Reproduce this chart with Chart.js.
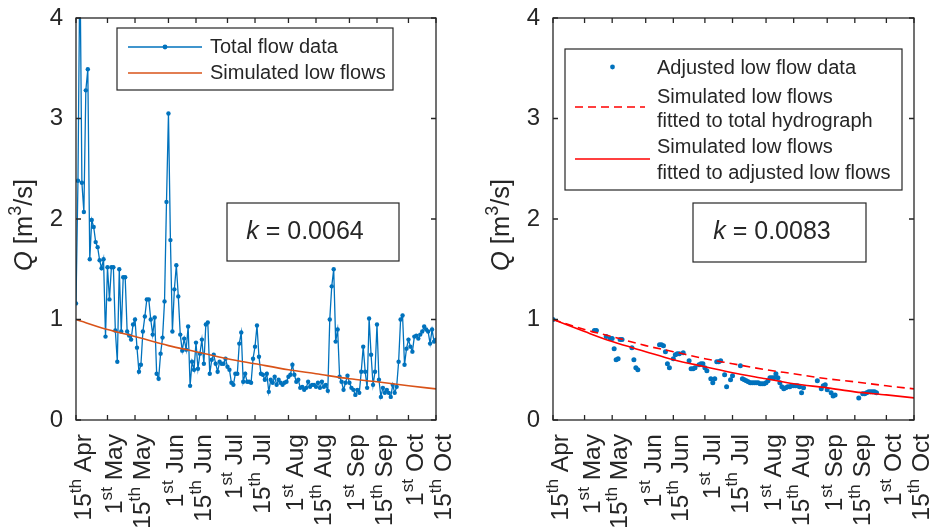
<!DOCTYPE html>
<html>
<head>
<meta charset="utf-8">
<script src="https://cdn.jsdelivr.net/npm/chart.js@4.4.1/dist/chart.umd.min.js"></script>
<style>
  html, body { margin: 0; padding: 0; background: #fff; }
  #wrap { position: relative; width: 935px; height: 532px; overflow: hidden; }
  #leftChart { position: absolute; left: 0; top: 0; }
  #rightChart { position: absolute; left: 470px; top: 0; }
</style>
</head>
<body>
<div id="wrap">
  <canvas id="leftChart" width="470" height="532"></canvas>
  <canvas id="rightChart" width="465" height="532"></canvas>
</div>
<script>
// days are counted from 15th April
const tickDays = [0, 16, 30, 47, 61, 77, 91, 108, 122, 139, 153, 169, 183];
const tickLabels = ['15th Apr', '1st May', '15th May', '1st Jun', '15th Jun', '1st Jul', '15th Jul',
  '1st Aug', '15th Aug', '1st Sep', '15th Sep', '1st Oct', '15th Oct'];
const yTicks = [0, 1, 2, 3, 4];

// total flow, one value per day (index = day)
const totalFlow = [
  1.16, 2.38, 4.60, 2.36, 2.07, 3.28, 3.49, 1.60, 1.99, 1.92,
  1.77, 1.72, 1.59, 1.51, 1.60, 0.83, 1.52, 1.20, 1.52, 1.52,
  0.89, 0.58, 1.50, 0.88, 1.42, 1.42, 0.88, 0.84, 0.80, 0.95,
  1.00, 0.72, 0.48, 0.55, 0.88, 1.03, 1.20, 1.20, 1.00, 0.85,
  1.02, 0.46, 0.41, 0.66, 0.82, 1.18, 2.17, 3.05, 1.79, 0.88,
  1.30, 1.54, 1.23, 0.85, 0.69, 0.81, 0.70, 0.93, 0.34, 0.58,
  0.50, 0.77, 0.51, 0.66, 0.80, 0.56, 0.95, 0.97, 0.46, 0.60,
  0.65, 0.56, 0.48, 0.58, 0.56, 0.56, 0.61, 0.53, 0.50, 0.37,
  0.35, 0.46, 0.46, 0.76, 0.87, 0.38, 0.46, 0.38, 0.38, 0.37,
  0.61, 0.73, 0.94, 0.63, 0.46, 0.45, 0.40, 0.46, 0.28, 0.40,
  0.37, 0.43, 0.35, 0.40, 0.37, 0.35, 0.37, 0.38, 0.43, 0.45,
  0.55, 0.45, 0.38, 0.40, 0.32, 0.33, 0.30, 0.32, 0.38, 0.33,
  0.35, 0.35, 0.33, 0.37, 0.32, 0.38, 0.33, 0.35, 0.29, 1.00,
  1.33, 1.50, 0.78, 0.90, 0.43, 0.38, 0.30, 0.37, 0.44, 0.37,
  0.32, 0.30, 0.25, 0.30, 0.27, 0.48, 0.73, 0.48, 0.32, 1.01,
  0.65, 0.35, 0.48, 0.95, 0.40, 0.23, 0.32, 0.27, 0.30, 0.27,
  0.23, 0.35, 0.27, 0.33, 0.58, 1.00, 1.04, 0.55, 0.71, 0.80,
  0.73, 0.68, 0.83, 0.84, 0.81, 0.85, 0.88, 0.93, 0.90, 0.88,
  0.76, 0.90, 0.78, 0.80
];

// simulated low flows, read at the tick dates
const simTotalFit = [1.00, 0.90, 0.83, 0.74, 0.68, 0.61, 0.56, 0.50, 0.46, 0.41, 0.38, 0.34, 0.31];
const simAdjFit = [1.00, 0.88, 0.78, 0.68, 0.60, 0.53, 0.47, 0.41, 0.36, 0.32, 0.28, 0.25, 0.22];

// adjusted low flow data
const adjDays = [0, 21, 22, 27, 29, 30, 31, 32, 33, 34, 35, 40, 41, 42, 43, 54, 55, 56, 57, 58,
  59, 61, 62, 63, 64, 66, 69, 70, 71, 72, 74, 75, 76, 77, 78, 80, 81, 82, 83, 84,
  85, 87, 88, 90, 91, 95, 96, 97, 98, 99, 100, 101, 102, 103, 104, 105, 106, 107, 108, 109,
  110, 111, 112, 113, 114, 115, 116, 117, 118, 119, 120, 121, 122, 123, 124, 125, 126, 127,
  134, 136, 137, 138, 139, 141, 142, 143, 155, 157, 158, 159, 160, 161, 162, 163, 164];
const adjFlow = [1.00, 0.89, 0.89, 0.83, 0.81, 0.81, 0.71, 0.60, 0.61, 0.80, 0.80, 0.72, 0.60, 0.52, 0.50, 0.75, 0.75, 0.74, 0.68, 0.56,
  0.52, 0.61, 0.65, 0.66, 0.66, 0.67, 0.59, 0.51, 0.51, 0.52, 0.55, 0.56, 0.56, 0.52, 0.49, 0.41, 0.37, 0.41, 0.58, 0.58,
  0.59, 0.45, 0.33, 0.40, 0.44, 0.54, 0.41, 0.40, 0.39, 0.38, 0.37, 0.37, 0.37, 0.37, 0.37, 0.36, 0.36, 0.36, 0.37, 0.39,
  0.42, 0.42, 0.42, 0.46, 0.42, 0.37, 0.33, 0.31, 0.32, 0.33, 0.33, 0.34, 0.34, 0.34, 0.34, 0.33, 0.27, 0.32,
  0.39, 0.31, 0.34, 0.35, 0.30, 0.27, 0.24, 0.25, 0.22, 0.26, 0.26, 0.27, 0.28, 0.28, 0.28, 0.28, 0.27];

const FONT = "'Liberation Sans', Arial, Helvetica, sans-serif";
const INK = '#262626';
const BLUE = '#0072BD';
const ORANGE = '#D95319';
const RED = '#FF0000';

function fontFor(p, size) {
  return (p.italic ? 'italic ' : '') + (p.sup ? size * 0.7 : size) + 'px ' + FONT;
}

// draws text pieces (normal / italic / superscript) on one baseline
function drawParts(ctx, parts, size, x, y, align) {
  let w = 0;
  parts.forEach(p => { ctx.font = fontFor(p, size); w += ctx.measureText(p.text).width; });
  let cx = align === 'center' ? x - w / 2 : align === 'right' ? x - w : x;
  ctx.textAlign = 'left';
  parts.forEach(p => {
    ctx.font = fontFor(p, size);
    ctx.fillText(p.text, cx, p.sup ? y - size * 0.42 : y);
    cx += ctx.measureText(p.text).width;
  });
}

function tickParts(label) {
  const m = label.match(/^(\d+)(st|nd|rd|th) (.+)$/);
  return [{ text: m[1] }, { text: m[2], sup: true }, { text: ' ' + m[3] }];
}

// MATLAB-like axes box, inward ticks, date labels, y title, legend and k box
const framePlugin = {
  id: 'frame',
  afterDatasetsDraw(chart, args, opts) {
    const { ctx, chartArea: a, scales: { x, y } } = chart;
    ctx.save();
    ctx.fillStyle = INK;
    ctx.strokeStyle = INK;
    ctx.lineWidth = 1.3;
    ctx.strokeRect(a.left, a.top, a.width, a.height);

    ctx.beginPath();
    tickDays.forEach(d => {
      const px = x.getPixelForValue(d);
      ctx.moveTo(px, a.bottom); ctx.lineTo(px, a.bottom - 5);
      ctx.moveTo(px, a.top); ctx.lineTo(px, a.top + 5);
    });
    yTicks.forEach(v => {
      const py = y.getPixelForValue(v);
      ctx.moveTo(a.left, py); ctx.lineTo(a.left + 5, py);
      ctx.moveTo(a.right, py); ctx.lineTo(a.right - 5, py);
    });
    ctx.stroke();

    // rotated date labels
    ctx.textBaseline = 'alphabetic';
    tickDays.forEach((d, i) => {
      ctx.save();
      ctx.translate(x.getPixelForValue(d), a.bottom + 14);
      ctx.rotate(-Math.PI / 2);
      drawParts(ctx, tickParts(tickLabels[i]), 24.5, 0, 15, 'right');
      ctx.restore();
    });

    // y axis title
    ctx.save();
    ctx.translate(a.left - 44, (a.top + a.bottom) / 2 + 6);
    ctx.rotate(-Math.PI / 2);
    drawParts(ctx, [{ text: 'Q', italic: true }, { text: ' [m' }, { text: '3', sup: true }, { text: '/s]' }], 25.5, 0, 0, 'center');
    ctx.restore();

    // legend
    const lg = opts.legend;
    ctx.fillStyle = '#fff';
    ctx.fillRect(a.left + lg.box[0], a.top + lg.box[1], lg.box[2], lg.box[3]);
    ctx.lineWidth = 1.2;
    ctx.strokeRect(a.left + lg.box[0], a.top + lg.box[1], lg.box[2], lg.box[3]);
    lg.items.forEach(it => {
      const sy = a.top + it.y;
      const x0 = a.left + it.x0, x1 = a.left + it.x1;
      ctx.strokeStyle = it.color;
      ctx.fillStyle = it.color;
      ctx.lineWidth = 1.6;
      if (it.kind !== 'marker') {
        ctx.setLineDash(it.kind === 'dash' ? [8, 5] : []);
        ctx.beginPath(); ctx.moveTo(x0, sy); ctx.lineTo(x1, sy); ctx.stroke();
        ctx.setLineDash([]);
      }
      if (it.kind === 'marker' || it.kind === 'lineMarker') {
        ctx.beginPath(); ctx.arc((x0 + x1) / 2, sy, 2.4, 0, Math.PI * 2); ctx.fill();
      }
    });
    ctx.fillStyle = INK;
    ctx.textBaseline = 'middle';
    ctx.textAlign = 'left';
    ctx.font = '20px ' + FONT;
    lg.texts.forEach(t => ctx.fillText(t[0], a.left + lg.textX, a.top + t[1]));

    // k annotation
    const kb = opts.kBox;
    ctx.strokeStyle = INK;
    ctx.lineWidth = 1.2;
    ctx.fillStyle = '#fff';
    ctx.fillRect(a.left + kb.box[0], a.top + kb.box[1], kb.box[2], kb.box[3]);
    ctx.strokeRect(a.left + kb.box[0], a.top + kb.box[1], kb.box[2], kb.box[3]);
    ctx.fillStyle = INK;
    drawParts(ctx, [{ text: 'k', italic: true }, { text: ' = ' + kb.value }], 25,
      a.left + kb.cx, a.top + kb.cy, 'center');
    ctx.restore();
  }
};

function scalesFor(yWidth) {
  return {
    x: {
      type: 'linear', min: 0, max: 183,
      afterFit: s => { s.height = 112; },
      ticks: { display: false },
      grid: { display: false, drawTicks: false },
      border: { display: false }
    },
    y: {
      min: 0, max: 4,
      afterFit: s => { s.width = yWidth; s.paddingTop = 0; s.paddingBottom = 0; },
      afterBuildTicks: s => { s.ticks = yTicks.map(v => ({ value: v })); },
      ticks: { font: { family: FONT, size: 24 }, color: INK, padding: 13 },
      grid: { display: false, drawTicks: false },
      border: { display: false }
    }
  };
}

new Chart(document.getElementById('leftChart'), {
  type: 'line',
  data: {
    datasets: [{
      data: tickDays.map((d, i) => ({ x: d, y: simTotalFit[i] })),
      borderColor: ORANGE, borderWidth: 1.6, pointRadius: 0,
      cubicInterpolationMode: 'monotone', order: 0
    }, {
      data: totalFlow.map((q, i) => ({ x: i, y: q })),
      borderColor: BLUE, borderWidth: 1.3, pointRadius: 2.2,
      pointBackgroundColor: BLUE, pointBorderWidth: 0, order: 1
    }]
  },
  options: {
    responsive: false, animation: false,
    layout: { padding: { left: 0, top: 18, right: 34, bottom: 0 } },
    scales: scalesFor(76),
    plugins: {
      legend: { display: false }, tooltip: { enabled: false },
      frame: {
        legend: {
          box: [41, 10, 276, 62], textX: 134,
          items: [
            { kind: 'lineMarker', color: BLUE, x0: 52, x1: 126, y: 29 },
            { kind: 'line', color: ORANGE, x0: 52, x1: 126, y: 55 }
          ],
          texts: [['Total flow data', 29], ['Simulated low flows', 55]]
        },
        kBox: { box: [151, 185, 172, 58], cx: 229, cy: 214, value: '0.0064' }
      }
    }
  },
  plugins: [framePlugin]
});

new Chart(document.getElementById('rightChart'), {
  type: 'line',
  data: {
    datasets: [{
      data: tickDays.map((d, i) => ({ x: d, y: simTotalFit[i] })),
      borderColor: RED, borderWidth: 1.6, borderDash: [8, 5], pointRadius: 0,
      cubicInterpolationMode: 'monotone', order: 0
    }, {
      data: tickDays.map((d, i) => ({ x: d, y: simAdjFit[i] })),
      borderColor: RED, borderWidth: 1.6, pointRadius: 0,
      cubicInterpolationMode: 'monotone', order: 0
    }, {
      data: adjDays.map((d, i) => ({ x: d, y: adjFlow[i] })),
      showLine: false, pointRadius: 2.5,
      pointBackgroundColor: BLUE, pointBorderWidth: 0, order: 1
    }]
  },
  options: {
    responsive: false, animation: false,
    layout: { padding: { left: 0, top: 18, right: 21, bottom: 0 } },
    scales: scalesFor(83),
    plugins: {
      legend: { display: false }, tooltip: { enabled: false },
      frame: {
        legend: {
          box: [12, 31, 337, 141], textX: 104,
          items: [
            { kind: 'marker', color: BLUE, x0: 22, x1: 97, y: 49 },
            { kind: 'dash', color: RED, x0: 22, x1: 92, y: 89 },
            { kind: 'line', color: RED, x0: 22, x1: 97, y: 141 }
          ],
          texts: [['Adjusted low flow data', 50], ['Simulated low flows', 79],
            ['fitted to total hydrograph', 103], ['Simulated low flows', 129],
            ['fitted to adjusted low flows', 155]]
        },
        kBox: { box: [140, 185, 173, 59], cx: 219, cy: 214, value: '0.0083' }
      }
    }
  },
  plugins: [framePlugin]
});
</script>
</body>
</html>
